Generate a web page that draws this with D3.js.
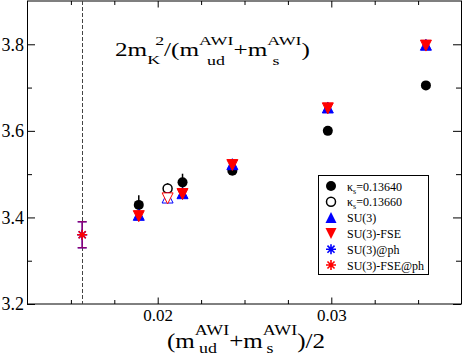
<!DOCTYPE html>
<html>
<head>
<meta charset="utf-8">
<script src="https://cdn.jsdelivr.net/npm/d3@7"></script>
<style>
  body { margin: 0; background: #fff; }
  svg { display: block; }
  text { font-family: "Liberation Serif", "Times New Roman", serif; fill: #000; }
</style>
</head>
<body>
<div id="chart"></div>
<script>
// physical point (extrapolated)
const physX = [0.01565];
const physY = [3.36];
const physErr = [0.03];

// kappa_s = 0.13640
const k40X = [0.01891, 0.02143, 0.0243, 0.0298, 0.03545];
const k40Y = [3.429, 3.481, 3.508, 3.600, 3.705];
const k40Err = [0.022, 0.02, 0.005, 0.005, 0.005];

// kappa_s = 0.13660
const k60X = [0.02057];
const k60Y = [3.467];
const k60Err = [0.012];

// SU(3) fits at the simulation points
const suX = [0.01891, 0.02057, 0.02143, 0.0243, 0.0298, 0.03545];
const suKappa = ["0.13640", "0.13660", "0.13640", "0.13640", "0.13640", "0.13640"];
const su3Y = [3.406, 3.446, 3.456, 3.523, 3.654, 3.799];
const fseY = [3.403, 3.444, 3.454, 3.521, 3.652, 3.797];

const xMajor = [0.02, 0.03];
const xMinor = [0.015, 0.0175, 0.0225, 0.025, 0.0275, 0.0325, 0.035];
const yMajor = [3.2, 3.4, 3.6, 3.8];
const yMinor = [3.3, 3.5, 3.7];

const legendLabels = ["κ|s|=0.13640", "κ|s|=0.13660", "SU(3)", "SU(3)-FSE", "SU(3)@ph", "SU(3)-FSE@ph"];

const W = 463, H = 358;
const margin = { left: 27, top: 1, right: 2, bottom: 54 };
const x0 = margin.left, x1 = W - margin.right;
const y0 = margin.top, y1 = H - margin.bottom;

const svg = d3.select("#chart").append("svg")
  .attr("width", W)
  .attr("height", H);

const x = d3.scaleLinear().domain([0.0125, 0.0375]).range([x0 + 0.5, x1 + 0.5]);
const y = d3.scaleLinear().domain([3.2, 3.9]).range([y1, y0]);

// ticks, all inward, mirrored on top/right
function ticks(axisFn, pos, values, len, labels) {
  const a = axisFn
    .tickValues(values)
    .tickSizeInner(-len)
    .tickSizeOuter(0)
    .tickPadding(labels ? 5 : 0)
    .tickFormat(labels ? d3.format(labels) : () => "");
  const g = svg.append("g").attr("transform", pos).call(a);
  g.select(".domain").remove();
  g.selectAll(".tick line").attr("stroke", "#000");
  g.selectAll(".tick text").attr("font-family", "Liberation Serif").attr("fill", "#000");
  return g;
}

const gxb = ticks(d3.axisBottom(x), `translate(0,${y1})`, xMajor, 6.5, ".2f");
gxb.selectAll(".tick text").attr("font-size", 17);
ticks(d3.axisBottom(x), `translate(0,${y1})`, xMinor, 4, null);
ticks(d3.axisTop(x), `translate(0,${y0})`, xMajor, 6.5, null);
ticks(d3.axisTop(x), `translate(0,${y0})`, xMinor, 4, null);

const gyl = ticks(d3.axisLeft(y), `translate(${x0},0)`, yMajor, 8, ".1f");
gyl.selectAll(".tick text").attr("font-size", 18).attr("x", -3);
ticks(d3.axisLeft(y), `translate(${x0},0)`, yMinor, 5, null);
ticks(d3.axisRight(y), `translate(${x1},0)`, yMajor, 8, null);
ticks(d3.axisRight(y), `translate(${x1},0)`, yMinor, 5, null);

// frame
svg.append("rect")
  .attr("x", x0 + 0.5).attr("y", y0)
  .attr("width", x1 - x0).attr("height", y1 - y0)
  .attr("fill", "none").attr("stroke", "#000").attr("stroke-width", 1);

// dashed line at physical point
svg.append("line")
  .attr("x1", Math.round(x(physX[0])) + 0.5).attr("x2", Math.round(x(physX[0])) + 0.5)
  .attr("y1", y0).attr("y2", y1)
  .attr("stroke", "#444").attr("stroke-width", 1)
  .attr("stroke-dasharray", "4,2");

// symbol paths
const R = 5, T = 5.5;
const triUp = `M${-T},${T}L${T},${T}L0,${-T}Z`;
const triDown = `M${-T},${-T}L${T},${-T}L0,${T}Z`;
function starPath(r) {
  const d = r * Math.SQRT1_2;
  return `M${-r},0L${r},0M0,${-r}L0,${r}M${-d},${-d}L${d},${d}M${-d},${d}L${d},${-d}`;
}

const plot = svg.append("g");

function errBars(xs, ys, es, color, cap, opacity) {
  plot.append("g").selectAll("path")
    .data(xs)
    .join("path")
    .attr("d", (d, i) => {
      const px = x(d), top = y(ys[i] + es[i]), bot = y(ys[i] - es[i]);
      let p = `M${px},${top}L${px},${bot}`;
      if (cap) p += `M${px - cap},${top}L${px + cap},${top}M${px - cap},${bot}L${px + cap},${bot}`;
      return p;
    })
    .attr("stroke", color).attr("stroke-width", 1.5).attr("fill", "none")
    .attr("opacity", opacity || 1);
}

// kappa 0.13640: filled circles
errBars(k40X, k40Y, k40Err, "#000", 0);
plot.append("g").selectAll("circle")
  .data(k40X)
  .join("circle")
  .attr("cx", d => x(d)).attr("cy", (d, i) => y(k40Y[i]))
  .attr("r", R).attr("fill", "#000");

// kappa 0.13660: open circle
errBars(k60X, k60Y, k60Err, "#000", 0);
plot.append("g").selectAll("circle")
  .data(k60X)
  .join("circle")
  .attr("cx", d => x(d)).attr("cy", (d, i) => y(k60Y[i]))
  .attr("r", R - 0.5).attr("fill", "#fff").attr("stroke", "#000").attr("stroke-width", 1.5);

// SU(3) blue up triangles
plot.append("g").selectAll("path")
  .data(suX)
  .join("path")
  .attr("transform", (d, i) => `translate(${x(d)},${y(su3Y[i])})`)
  .attr("d", triUp)
  .attr("fill", (d, i) => suKappa[i] === "0.13660" ? "#fff" : "#0000ff")
  .attr("stroke", "#0000ff").attr("stroke-width", 1);

// SU(3)-FSE red down triangles
plot.append("g").selectAll("path")
  .data(suX)
  .join("path")
  .attr("transform", (d, i) => `translate(${x(d)},${y(fseY[i])})`)
  .attr("d", triDown)
  .attr("fill", (d, i) => suKappa[i] === "0.13660" ? "#fff" : "#ff0000")
  .attr("stroke", "#ff0000").attr("stroke-width", 1);

// physical point, both @ph sets (blue then red over it)
errBars(physX, physY, physErr, "#0000ff", 4.5);
errBars(physX, physY, physErr, "#ff0000", 4.5, 0.55);
plot.append("g").selectAll("path")
  .data(physX)
  .join("path")
  .attr("transform", (d, i) => `translate(${x(d)},${y(physY[i])})`)
  .attr("d", starPath(5)).attr("stroke", "#0000ff").attr("stroke-width", 1.6);
plot.append("g").selectAll("path")
  .data(physX)
  .join("path")
  .attr("transform", (d, i) => `translate(${x(d)},${y(physY[i])})`)
  .attr("d", starPath(5)).attr("stroke", "#ff0000").attr("stroke-width", 1.6);

// rich text with sub/superscripts; stacked parts start back at previous part
function rich(x, yb, parts, targetW) {
  const g = svg.append("g");
  let start = x, end = x;
  parts.forEach(p => {
    const sx = p.stack ? start + (p.dx || 0) : end;
    const t = g.append("text")
      .attr("x", sx).attr("y", yb + (p.dy || 0))
      .attr("font-size", p.size)
      .text(p.t);
    const w = t.node().getComputedTextLength();
    if (!p.stack) start = sx;
    end = Math.max(end, sx + w);
  });
  if (targetW) {
    g.attr("transform", `translate(${x},0) scale(${targetW / (end - x)},1) translate(${-x},0)`);
  }
  return g;
}

// title inside plot
rich(115, 56, [
  { t: "2m", size: 19 },
  { t: "K", size: 13.5, dy: 8 },
  { t: "2", size: 13.5, dy: -11, stack: true, dx: 6 },
  { t: "/(m", size: 19 },
  { t: "AWI", size: 13.5, dy: -11 },
  { t: "ud", size: 13.5, dy: 9, stack: true, dx: 6 },
  { t: "+m", size: 19 },
  { t: "AWI", size: 13.5, dy: -11 },
  { t: "s", size: 13.5, dy: 9, stack: true, dx: 4 },
  { t: ")", size: 19 }
], 195);

// x axis title
rich(167, 348, [
  { t: "(m", size: 21 },
  { t: "AWI", size: 15, dy: -13 },
  { t: "ud", size: 15, dy: 5, stack: true, dx: 3.5 },
  { t: "+m", size: 21 },
  { t: "AWI", size: 15, dy: -13 },
  { t: "s", size: 15, dy: 5, stack: true, dx: 3 },
  { t: ")/2", size: 21 }
], 158);

// legend
const lg = svg.append("g");
lg.append("rect")
  .attr("x", 318.5).attr("y", 175.5).attr("width", 110).attr("height", 99)
  .attr("fill", "#fff").attr("stroke", "#000").attr("stroke-width", 1);

const ly = d3.scaleLinear().domain([0, 5]).range([186, 265]);
const lsx = 331, ltx = 347;
legendLabels.forEach((lab, i) => {
  const cy = ly(i);
  const s = lg.append("g").attr("transform", `translate(${lsx},${cy})`);
  if (i === 0) s.append("circle").attr("r", R).attr("fill", "#000");
  if (i === 1) s.append("circle").attr("r", R - 0.5).attr("fill", "#fff").attr("stroke", "#000").attr("stroke-width", 1.5);
  if (i === 2) s.append("path").attr("d", triUp).attr("fill", "#0000ff");
  if (i === 3) s.append("path").attr("d", triDown).attr("fill", "#ff0000");
  if (i === 4) s.append("path").attr("d", starPath(5)).attr("stroke", "#0000ff").attr("stroke-width", 1.6);
  if (i === 5) s.append("path").attr("d", starPath(5)).attr("stroke", "#ff0000").attr("stroke-width", 1.6);

  const t = lg.append("text").attr("x", ltx).attr("y", cy + 4.5).attr("font-size", 12);
  const bits = lab.split("|");
  t.append("tspan").text(bits[0]);
  if (bits.length > 1) {
    t.append("tspan").attr("font-size", 8).attr("dy", 3).text(bits[1]);
    t.append("tspan").attr("dy", -3).text(bits[2]);
  }
});
</script>
</body>
</html>
